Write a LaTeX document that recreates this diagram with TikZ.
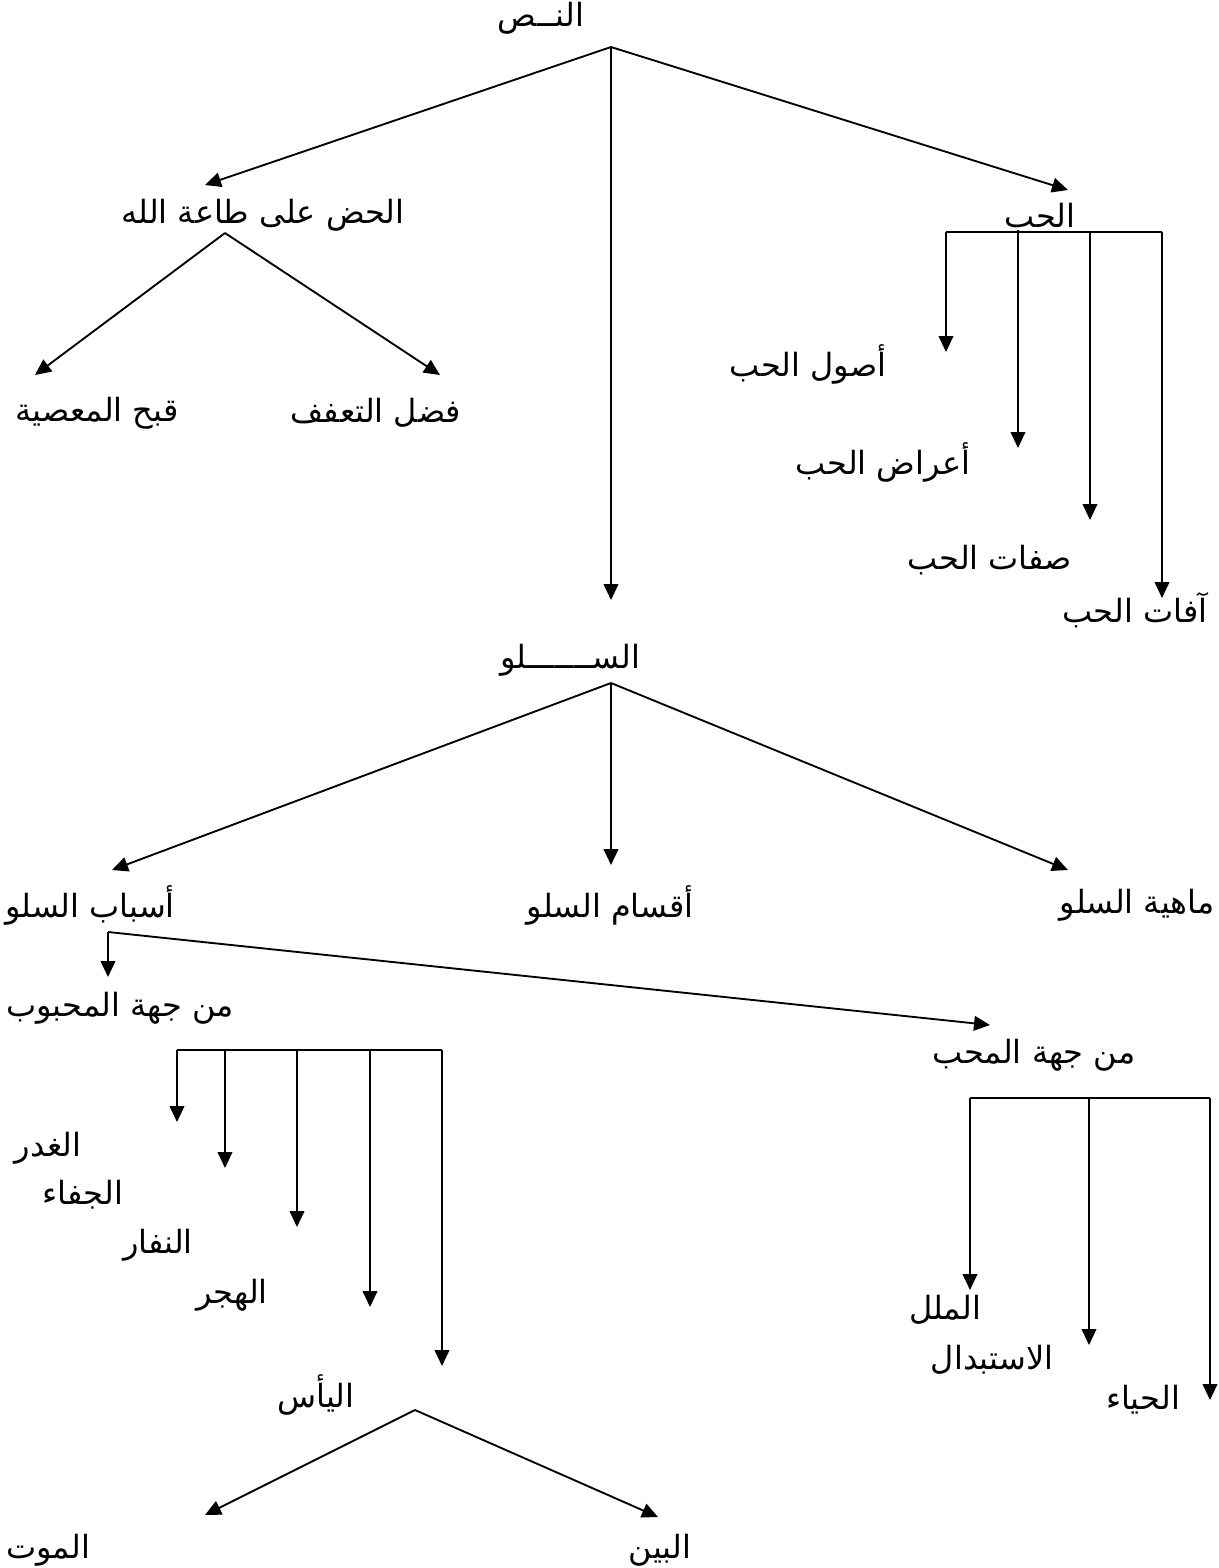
\documentclass[tikz,border=0pt]{standalone}
\usepackage{fontspec}
\usepackage{tikz}
\usetikzlibrary{arrows.meta}
\TeXXeTstate=1
\newfontfamily\arabicfont[Script=Arabic]{DejaVu Sans}
\newcommand{\rtl}[1]{\beginR #1\endR}
\tikzstyle{topic} = [font=\arabicfont\fontsize{24}{28}\selectfont, inner sep=0pt]
\tikzstyle{arrow} = [line width=1.4pt, -{Triangle[length=12pt,width=11pt]}]
\tikzstyle{bar} = [line width=1.4pt]

\begin{document}
\begin{tikzpicture}[x=0.75pt, y=-0.75pt]
      \useasboundingbox (0,0) rectangle (1219,1568);

      \node (nass) [topic] at (541,18) {\rtl{النــص}};
      \node (hadd) [topic] at (263,215) {\rtl{الحض على طاعة الله}};
      \node (qubh) [topic] at (97,413) {\rtl{قبح المعصية}};
      \node (fadl) [topic] at (376,413) {\rtl{فضل التعفف}};
      \node (hubb) [topic] at (1040,218) {\rtl{الحب}};
      \node (usul) [topic] at (808,364) {\rtl{أصول الحب}};
      \node (aarad) [topic] at (883,462) {\rtl{أعراض الحب}};
      \node (sifat) [topic] at (990,560) {\rtl{صفات الحب}};
      \node (afat) [topic] at (1135,610) {\rtl{آفات الحب}};
      \node (sulw) [topic] at (570,660) {\rtl{الســـــــلو}};
      \node (asbab) [topic] at (90,905) {\rtl{أسباب السلو}};
      \node (aqsam) [topic] at (610,905) {\rtl{أقسام السلو}};
      \node (mahiya) [topic] at (1137,905) {\rtl{ماهية السلو}};
      \node (mahbub) [topic] at (120,1008) {\rtl{من جهة المحبوب}};
      \node (muhibb) [topic] at (1034,1055) {\rtl{من جهة المحب}};
      \node (ghadr) [topic] at (48,1148) {\rtl{الغدر}};
      \node (jafa) [topic] at (83,1195) {\rtl{الجفاء}};
      \node (nifar) [topic] at (158,1245) {\rtl{النفار}};
      \node (hajr) [topic] at (232,1295) {\rtl{الهجر}};
      \node (yas) [topic] at (316,1395) {\rtl{اليأس}};
      \node (malal) [topic] at (945,1310) {\rtl{الملل}};
      \node (istibdal) [topic] at (992,1360) {\rtl{الاستبدال}};
      \node (haya) [topic] at (1143,1400) {\rtl{الحياء}};
      \node (mawt) [topic] at (48,1550) {\rtl{الموت}};
      \node (bayn) [topic] at (660,1550) {\rtl{البين}};

      \coordinate (nassfork) at (611,47);
      \coordinate (haddend) at (205,185);
      \coordinate (sulwend) at (611,600);
      \coordinate (hubbend) at (1068,190);
      \draw [arrow] (nassfork) -- (haddend);
      \draw [arrow] (nassfork) -- (sulwend);
      \draw [arrow] (nassfork) -- (hubbend);

      \coordinate (haddfork) at (225,233);
      \coordinate (qubhend) at (35,375);
      \coordinate (fadlend) at (440,375);
      \draw [arrow] (haddfork) -- (qubhend);
      \draw [arrow] (haddfork) -- (fadlend);

      \foreach \i/\x/\y in {1/946/352, 2/1018/448, 3/1090/520, 4/1162/598} {
        \coordinate (hubbtop\i) at (\x,232);
        \coordinate (hubbtip\i) at (\x,\y);
        \draw [arrow] (hubbtop\i) -- (hubbtip\i);
      }
      \draw [bar] (hubbtop1) -- (hubbtop4);

      \coordinate (sulwfork) at (611,683);
      \coordinate (asbabend) at (112,870);
      \coordinate (aqsamend) at (611,865);
      \coordinate (mahiyaend) at (1068,870);
      \draw [arrow] (sulwfork) -- (asbabend);
      \draw [arrow] (sulwfork) -- (aqsamend);
      \draw [arrow] (sulwfork) -- (mahiyaend);

      \coordinate (asbabfork) at (108,932);
      \coordinate (mahbubend) at (108,977);
      \coordinate (muhibbend) at (990,1025);
      \draw [arrow] (asbabfork) -- (mahbubend);
      \draw [arrow] (asbabfork) -- (muhibbend);

      \foreach \i/\x/\y in {1/177/1122, 2/225/1168, 3/297/1227, 4/370/1307, 5/442/1366} {
        \coordinate (mahbubtop\i) at (\x,1050);
        \coordinate (mahbubtip\i) at (\x,\y);
        \draw [arrow] (mahbubtop\i) -- (mahbubtip\i);
      }
      \draw [bar] (mahbubtop1) -- (mahbubtop5);

      \foreach \i/\x/\y in {1/970/1290, 2/1089/1345, 3/1210/1400} {
        \coordinate (muhibbtop\i) at (\x,1098);
        \coordinate (muhibbtip\i) at (\x,\y);
        \draw [arrow] (muhibbtop\i) -- (muhibbtip\i);
      }
      \draw [bar] (muhibbtop1) -- (muhibbtop3);

      \coordinate (yasfork) at (415,1410);
      \coordinate (mawtend) at (205,1515);
      \coordinate (baynend) at (658,1517);
      \draw [arrow] (yasfork) -- (mawtend);
      \draw [arrow] (yasfork) -- (baynend);
\end{tikzpicture}
\end{document}
